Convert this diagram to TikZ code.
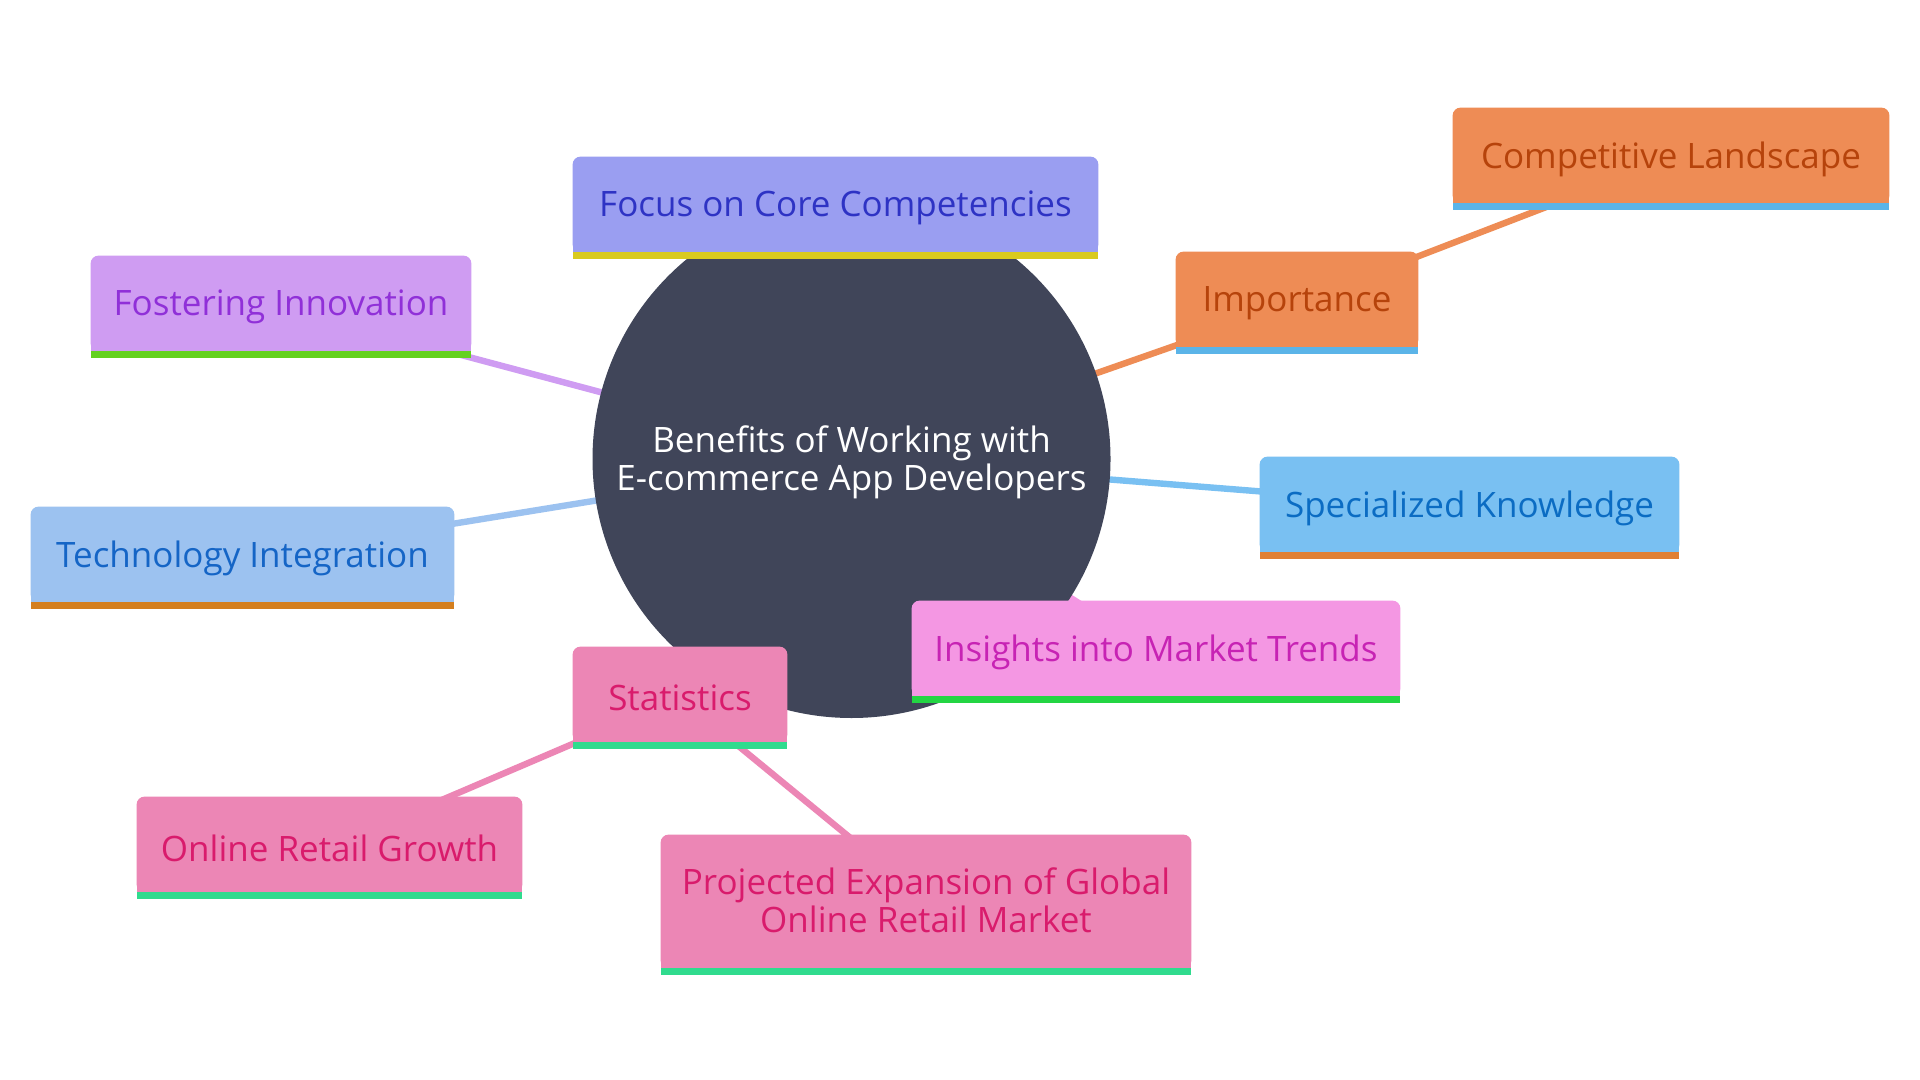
\documentclass[tikz,border=0pt]{standalone}
\usepackage{fontspec}
\setmainfont{Open Sans}
\pgfdeclarelayer{bg}
\pgfdeclarelayer{boxes}
\pgfsetlayers{bg,boxes,main}
\definecolor{circfill}{HTML}{404559}
\definecolor{focusF}{HTML}{9A9EF1}\definecolor{focusT}{HTML}{2E33C4}\definecolor{focusB}{HTML}{D9CA1F}
\definecolor{fostF}{HTML}{CF9CF2}\definecolor{fostT}{HTML}{9030D8}\definecolor{fostB}{HTML}{64D11F}
\definecolor{techF}{HTML}{9CC2F0}\definecolor{techT}{HTML}{1565C6}\definecolor{techB}{HTML}{D47F1F}
\definecolor{impF}{HTML}{EE8C55}\definecolor{impT}{HTML}{B6430B}\definecolor{impB}{HTML}{5BB4E8}
\definecolor{specF}{HTML}{79C0F2}\definecolor{specT}{HTML}{0B6CC3}\definecolor{specB}{HTML}{E08034}
\definecolor{insF}{HTML}{F497E3}\definecolor{insT}{HTML}{C723B4}\definecolor{insB}{HTML}{23D543}
\definecolor{statF}{HTML}{EC86B5}\definecolor{statT}{HTML}{D91B6C}\definecolor{statB}{HTML}{30DB8E}
\newcommand\drawpanel[4][3.5pt]{%
  \fill[#3, rounded corners=4pt] (#2.south west) rectangle ([yshift=#1]#2.north east);
  \fill[#3] (#2.south west) rectangle (#2.east);
  \fill[#4] (#2.south west) rectangle ([yshift=-3.5pt]#2.south east);
}
\tikzset{
  box/.style={rectangle, inner sep=0pt, minimum height=44pt, align=center,
    font=\fontsize{17.5}{19}\selectfont},
  link/.style={line width=3.2pt},
  hub/.style={circle, inner sep=0pt, align=center, text=white,
    font=\fontsize{17.5}{19}\selectfont}
}
\begin{document}
\begin{tikzpicture}[x=0.5pt,y=-0.5pt]
\useasboundingbox (0,0) rectangle (1920,1080);
\coordinate (cc) at (851.5,459);
\node[hub] (c) at (851.5,462.5) {Benefits of Working with\\E-commerce App Developers};
\node[box, text=focusT, minimum width=262.5pt] (focus) at (835.5,208) {Focus on Core Competencies};
\node[box, text=fostT, minimum width=190pt] (fost) at (281,307) {Fostering Innovation};
\node[box, text=techT, minimum width=211.5pt] (tech) at (242.5,558) {Technology Integration};
\node[box, text=impT, minimum width=121pt] (imp) at (1297,303) {Importance};
\node[box, text=impT, minimum width=218pt] (comp) at (1671,159) {Competitive Landscape};
\node[box, text=specT, minimum width=209.5pt] (spec) at (1469.5,508) {Specialized Knowledge};
\node[box, text=insT, minimum width=244pt] (ins) at (1156,652) {Insights into Market Trends};
\node[box, text=statT, minimum width=107pt] (stat) at (680,698) {Statistics};
\node[box, text=statT, minimum width=192.5pt] (online) at (329.5,848) {Online Retail Growth};
\node[box, text=statT, minimum width=265pt, minimum height=68pt] (proj) at (926,900) {Projected Expansion of Global\\Online Retail Market};
\begin{pgfonlayer}{bg}
  \fill[white] (0,0) rectangle (1920,1080);
  \draw[link, focusF] (cc) -- (focus.center);
  \draw[link, fostF] (cc) -- (fost.center);
  \draw[link, techF] (cc) -- (tech.center);
  \draw[link, impF] (cc) -- (imp.center);
  \draw[link, impF] (imp.center) -- (comp.center);
  \draw[link, specF] (cc) -- (spec.center);
  \draw[link, insF] (cc) -- (ins.center);
  \draw[link, statF] (cc) -- (stat.center);
  \draw[link, statF] (stat.center) -- (online.center);
  \draw[link, statF] (stat.center) -- (proj.center);
  \fill[circfill] (cc) circle[radius=129.5pt];
\end{pgfonlayer}
\begin{pgfonlayer}{boxes}
  \drawpanel{focus}{focusF}{focusB}
  \drawpanel{fost}{fostF}{fostB}
  \drawpanel{tech}{techF}{techB}
  \drawpanel{imp}{impF}{impB}
  \drawpanel{comp}{impF}{impB}
  \drawpanel{spec}{specF}{specB}
  \drawpanel{ins}{insF}{insB}
  \drawpanel{stat}{statF}{statB}
  \drawpanel{online}{statF}{statB}
  \drawpanel[-1.5pt]{proj}{statF}{statB}
\end{pgfonlayer}
\end{tikzpicture}
\end{document}
